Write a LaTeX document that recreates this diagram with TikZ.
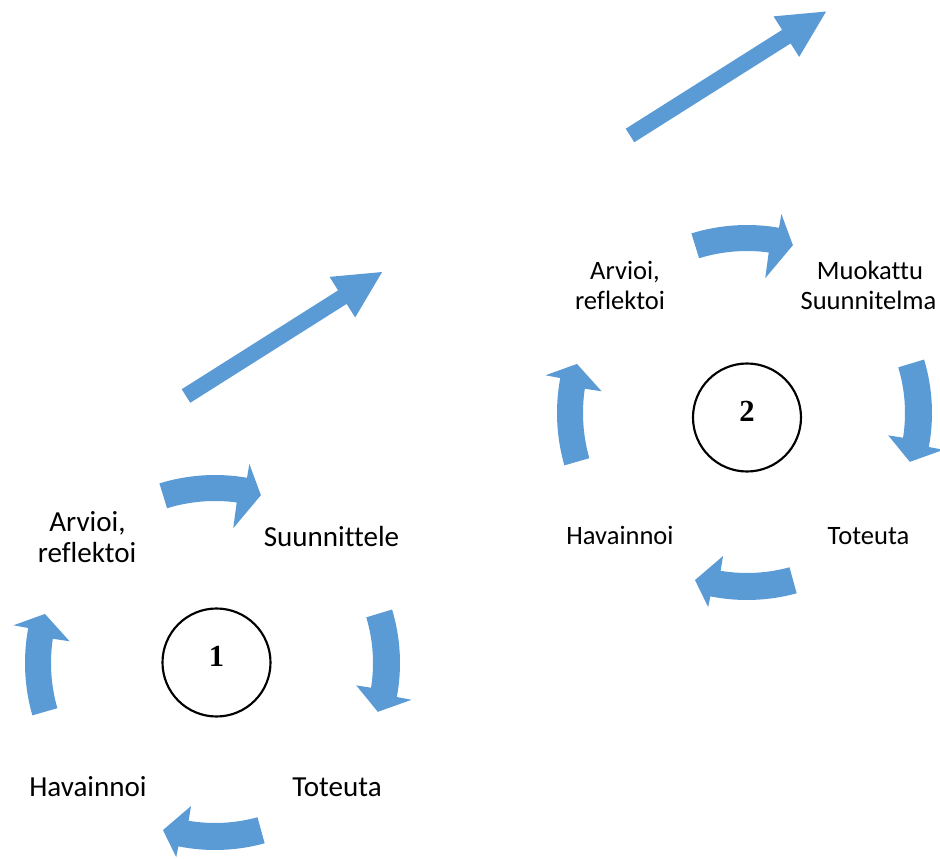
\documentclass[tikz,border=0pt]{standalone}
\usepackage{fontspec}
\setmainfont{Carlito}[Ligatures=NoCommon]
\newfontfamily\numfont{Liberation Serif}
\definecolor{arrowblue}{HTML}{5B9BD5}

% Curved block arrow around the current origin, running clockwise.
% #1 tail angle, #2/#3 head-base angle (outer/inner edge), #4 tip angle,
% #5/#6 band inner/outer radius, #7/#8 head inner/outer radius, #9 tip radius
\newcommand\cyclearrow[9]{%
  \fill[arrowblue] (#1:#6) arc[start angle=#1, end angle=#2, radius=#6]
    -- (#2:#8) -- (#4:#9) -- (#3:#7) -- (#3:#5)
    arc[start angle=#3, end angle=#1, radius=#5] -- cycle;}

% The four arrows of one planning cycle, centred at (#1,#2)
\newcommand\cyclering[2]{%
  \begin{scope}[shift={(#1,#2)}]
    \cyclearrow{107.2}{80.2}{82.3}{74.7}{162}{188}{136}{202}{174}
    \cyclearrow{16.8}{-10.6}{-9}{-16.7}{158}{185}{143}{200}{170}
    \cyclearrow{-74.6}{-101.3}{-99.5}{-107.3}{160}{187}{145}{198}{175}
    \cyclearrow{196}{169.4}{171.5}{163.9}{164}{190}{147}{205}{177}
  \end{scope}}

% Straight block arrow from the tail centre, pointing along the given angle
\newcommand\bigarrow[2]{%
  \fill[arrowblue, shift={(#1)}, rotate=#2]
    (0,-8) -- (185,-8) -- (185,-24) -- (232,0) -- (185,24) -- (185,8) -- (0,8) -- cycle;}

\tikzset{
  labA/.style={font=\fontsize{21.8}{25}\selectfont, anchor=base, inner sep=0pt},
  labB/.style={font=\fontsize{19.9}{24}\selectfont, anchor=base, inner sep=0pt},
  ring/.style={draw=black, line width=1.6pt, circle, minimum size=108*0.75pt, inner sep=0pt},
  num/.style={font=\numfont\bfseries\fontsize{23}{27}\selectfont, anchor=base, inner sep=0pt}
}

\begin{document}
\begin{tikzpicture}[x=0.75pt, y=0.75pt]
  \useasboundingbox (0,0) rectangle (940,858);

  % first cycle
  \cyclering{215}{195}
  \node[ring] (c1) at (216.5,195.5) {};
  \node[num] (n1) at (216.5,191) {1};
  \node[labA] (arv1) at (87.5,326) {Arvioi,};
  \node[labA] (ref1) at (87,295) {reflektoi};
  \node[labA] (suu1) at (331.5,311) {Suunnittele};
  \node[labA] (hav1) at (88,62) {Havainnoi};
  \node[labA] (tot1) at (337,62) {Toteuta};

  % transition arrows
  \bigarrow{186,462}{32.3}
  \bigarrow{630,722.5}{32.3}

  % second cycle
  \cyclering{747}{445}
  \node[ring] (c2) at (747,440.5) {};
  \node[num] (n2) at (747,436) {2};
  \node[labB] (arv2) at (625,578) {Arvioi,};
  \node[labB] (ref2) at (620,548) {reflektoi};
  \node[labB] (muo2) at (870,578) {Muokattu};
  \node[labB] (suu2) at (868.5,548) {Suunnitelma};
  \node[labB] (hav2) at (620,313) {Havainnoi};
  \node[labB] (tot2) at (868.5,313) {Toteuta};
\end{tikzpicture}
\end{document}
